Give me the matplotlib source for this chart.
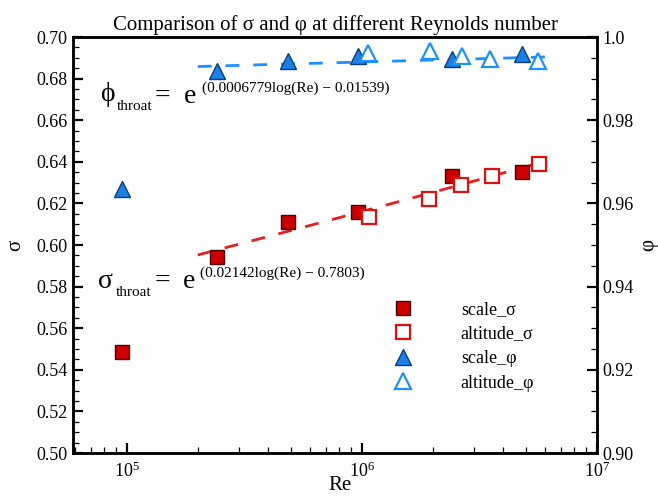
import numpy as np
import matplotlib
matplotlib.use('Agg')
import matplotlib.pyplot as plt
from matplotlib.ticker import (LogLocator, LogFormatterMathtext, MultipleLocator, FixedLocator,
                               FuncFormatter, NullFormatter)

plt.rcParams['font.family'] = ['Liberation Serif', 'DejaVu Serif']
plt.rcParams['mathtext.fontset'] = 'stix'

# Data
re_scale = [9.5e4, 2.42e5, 4.85e5, 9.6e5, 2.41e6, 4.8e6]
sigma_scale = [0.5486, 0.5942, 0.6110, 0.6159, 0.6332, 0.6350]
re_alt = [1.07e6, 1.93e6, 2.64e6, 3.57e6, 5.66e6]
sigma_alt = [0.6135, 0.6220, 0.6288, 0.6332, 0.6390]

re_scale_phi = [9.5e4, 2.42e5, 4.85e5, 9.6e5, 2.41e6, 4.8e6]
phi_scale = [0.9634, 0.9918, 0.9942, 0.9954, 0.9947, 0.9959]
re_alt_phi = [1.06e6, 1.94e6, 2.67e6, 3.51e6, 5.6e6]
phi_alt = [0.9961, 0.9966, 0.9954, 0.9947, 0.9942]

# fit coefficients shown on the chart: exp(a*ln(Re) + b)
sigma_fit = (0.02142, -0.7803)
phi_fit = (0.0006779, -0.01539)
fit_re_range = (2.0e5, 6.0e6)

W, H = 658, 498
fig = plt.figure(figsize=(W / 100, H / 100), dpi=100)
ax = fig.add_axes([73 / W, 1 - 453 / H, 524 / W, 416 / H])
ax.set_xscale('log')
ax.set_xlim(5.89e4, 1e7)
ax.set_ylim(0.50, 0.70)
ax2 = ax.twinx()
ax2.set_ylim(0.90, 1.0)

red_fill = '#CC0000'
red_edge = '#E01010'
blue_fill = '#1C7FE6'
blue_edge = '#1E90FF'

re_line = np.geomspace(fit_re_range[0], fit_re_range[1], 200)
ax.plot(re_line, np.exp(sigma_fit[0] * np.log(re_line) + sigma_fit[1]),
        ls=(0, (5, 5)), color='#E5201E', lw=2, zorder=2)
ax2.plot(re_line, np.exp(phi_fit[0] * np.log(re_line) + phi_fit[1]),
         ls=(0, (5, 5)), color='#1E8FFF', lw=2, zorder=2)

h1, = ax.plot(re_scale, sigma_scale, 's', ms=10, mfc=red_fill, mec='#4A0000',
              mew=1.0, ls='none', label='scale_σ', zorder=3)
h2, = ax.plot(re_alt, sigma_alt, 's', ms=10, mfc='white', mec=red_edge,
              mew=1.6, ls='none', label='altitude_σ', zorder=3)
h3, = ax2.plot(re_scale_phi, phi_scale, '^', ms=11, mfc=blue_fill, mec='#0B3C80',
               mew=1.0, ls='none', label='scale_φ', zorder=3)
h4, = ax2.plot(re_alt_phi, phi_alt, '^', ms=11, mfc='white', mec=blue_edge,
               mew=1.6, ls='none', label='altitude_φ', zorder=3)

ax.set_xlim(5.89e4, 1e7)
ax.set_ylim(0.50, 0.70)
ax2.set_ylim(0.90, 1.0)

minor_x = [s * 10.0 ** d for d in range(4, 7) for s in range(2, 10)]
ax.xaxis.set_major_locator(LogLocator(base=10, numticks=100))
ax.xaxis.set_major_formatter(LogFormatterMathtext())
ax.xaxis.set_minor_locator(FixedLocator(minor_x))
ax.xaxis.set_minor_formatter(NullFormatter())
ax.yaxis.set_major_locator(MultipleLocator(0.02))
ax.yaxis.set_minor_locator(MultipleLocator(0.005))
ax.yaxis.set_major_formatter(FuncFormatter(lambda v, p: f'{v:.2f}'))
ax2.yaxis.set_major_locator(MultipleLocator(0.02))
ax2.yaxis.set_minor_locator(MultipleLocator(0.005))
ax2.yaxis.set_major_formatter(FuncFormatter(lambda v, p: '1.0' if abs(v - 1) < 1e-9 else f'{v:.2f}'))

for a in (ax, ax2):
    for s in a.spines.values():
        s.set_linewidth(1.8)
ax.tick_params(which='major', direction='in', length=7, width=1.6, labelsize=13, pad=4)
ax.tick_params(which='minor', direction='in', length=4, width=0.9)
ax.tick_params(axis='y', which='both', right=False)
ax.tick_params(axis='x', which='both', top=False, bottom=True)
ax.tick_params(axis='x', which='major', pad=6)
ax2.tick_params(axis='y', which='major', direction='in', length=7, width=1.6, labelsize=13, pad=4)
ax2.tick_params(axis='y', which='minor', direction='in', length=4, width=0.9)

# keep the left axes (with the Re ticks) drawn on top of the twin
ax.set_zorder(ax2.get_zorder() + 1)
ax.patch.set_visible(False)

ax.set_title('Comparison of σ and φ at different Reynolds number', fontsize=15, pad=5)
ax.set_ylabel('σ', fontsize=15, labelpad=8)
ax2.set_ylabel('φ', fontsize=15, labelpad=4)
ax.text(0.51, -0.055, 'Re', transform=ax.transAxes, fontsize=15, ha='center', va='top')


def ftext(x, y, s, size):
    fig.text(x / W, 1 - y / H, s, fontsize=size, va='baseline', ha='left')


# phi fit equation
ftext(100, 101, 'ϕ', 20)
ftext(117, 110, 'throat', 11)
ftext(155, 103, '=', 20)
ftext(184, 103, 'e', 20)
ftext(202, 92, '(0.0006779log(Re) − 0.01539)', 11)
# sigma fit equation
ftext(98, 288, 'σ', 20)
ftext(116, 296, 'throat', 11)
ftext(155, 288, '=', 20)
ftext(183, 288, 'e', 20)
ftext(200, 277, '(0.02142log(Re) − 0.7803)', 11)

leg = ax.legend(handles=[h1, h2, h3, h4], loc='upper left',
                bbox_to_anchor=(394 / W, 1 - 301 / H), bbox_transform=fig.transFigure,
                frameon=False, fontsize=13, handlelength=1.0, handletextpad=2.7,
                labelspacing=0.42, borderpad=0, borderaxespad=0)
leg.set_zorder(5)

fig.savefig('out.png', dpi=100)
